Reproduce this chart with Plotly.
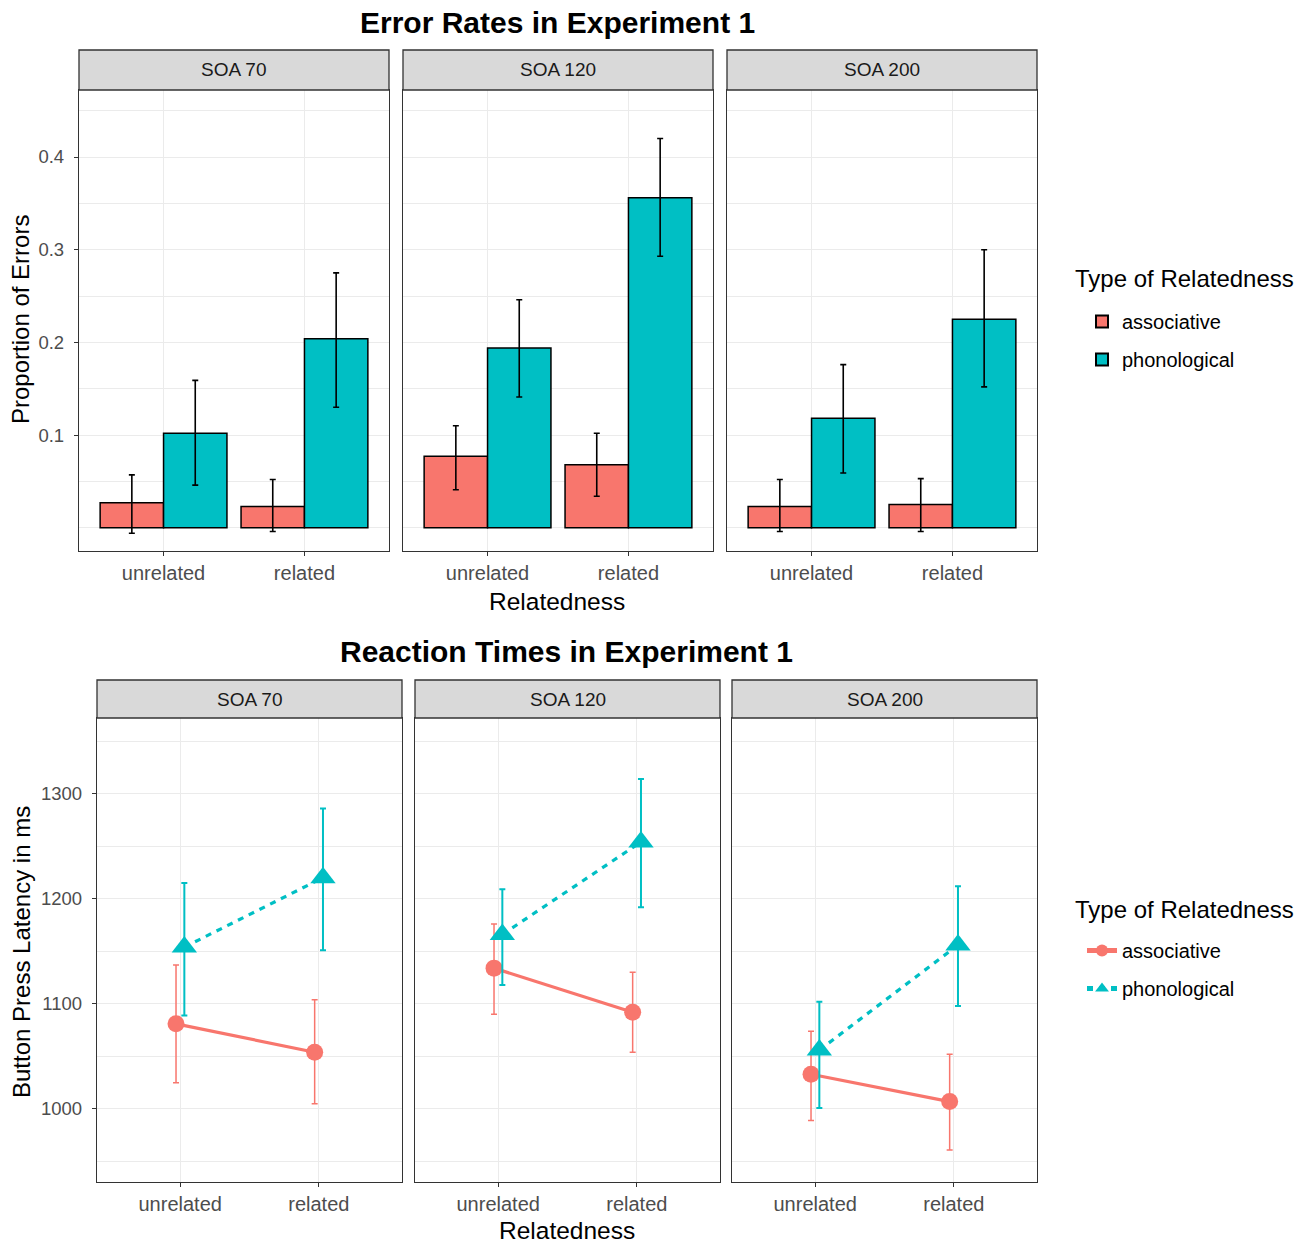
import plotly.graph_objects as go

# ---------------- data ----------------
soas = ["SOA 70", "SOA 120", "SOA 200"]
relatedness = ["unrelated", "related"]
types = ["associative", "phonological"]

# Error rates (proportion of errors), per SOA: [unrelated, related]
err_assoc = [[0.027, 0.023], [0.077, 0.068], [0.023, 0.025]]
err_assoc_lo = [[-0.006, -0.004], [0.041, 0.034], [-0.004, -0.004]]
err_assoc_hi = [[0.057, 0.052], [0.110, 0.102], [0.052, 0.053]]
err_phon = [[0.102, 0.204], [0.194, 0.356], [0.118, 0.225]]
err_phon_lo = [[0.046, 0.130], [0.141, 0.293], [0.059, 0.152]]
err_phon_hi = [[0.159, 0.275], [0.246, 0.420], [0.176, 0.300]]

# Reaction times (ms), per SOA: [unrelated, related]
rt_assoc = [[1081, 1054], [1134, 1092], [1033, 1007]]
rt_assoc_lo = [[1025, 1005], [1090, 1054], [989, 961]]
rt_assoc_hi = [[1137, 1104], [1176, 1130], [1074, 1052]]
rt_phon = [[1154, 1220], [1166, 1254], [1056, 1156]]
rt_phon_lo = [[1089, 1151], [1118, 1192], [1001, 1098]]
rt_phon_hi = [[1215, 1286], [1209, 1314], [1102, 1212]]

err_ticks = [0.1, 0.2, 0.3, 0.4]
err_minor = [0.0, 0.05, 0.15, 0.25, 0.35, 0.45]
rt_ticks = [1000, 1100, 1200, 1300]
rt_minor = [950, 1050, 1150, 1250, 1350]

# ---------------- styling ----------------
W, H = 1307, 1243
FONT = "Liberation Sans, Arial, sans-serif"
C_ASSOC = "#F8766D"
C_PHON = "#00BFC4"
GRID = "#EBEBEB"
FRAME = "#333333"
TICKTXT = "#4D4D4D"


def px_x(p):
    return p / W


def px_y(p):
    return 1 - p / H


top_x_px = [(79, 389), (403, 713), (727, 1037)]
top_y_px = (90, 551)
top_strip_px = (50, 90)
bot_x_px = [(97, 402), (415, 720), (732, 1037)]
bot_y_px = (718, 1182)
bot_strip_px = (680, 718)

fig = go.Figure()


def errs(mean, lo, hi):
    return ([h - m for m, h in zip(mean, hi)], [m - l for m, l in zip(mean, lo)])


# ---------------- top: bars ----------------
for i in range(3):
    xa = "x" if i == 0 else f"x{i + 1}"
    ya = "y" if i == 0 else f"y{i + 1}"
    for name, col, vals, lo, hi in [
        ("associative", C_ASSOC, err_assoc[i], err_assoc_lo[i], err_assoc_hi[i]),
        ("phonological", C_PHON, err_phon[i], err_phon_lo[i], err_phon_hi[i]),
    ]:
        up, down = errs(vals, lo, hi)
        fig.add_trace(go.Bar(
            x=relatedness, y=vals, name=name,
            marker=dict(color=col, line=dict(color="black", width=1.5)),
            error_y=dict(type="data", symmetric=False, array=up, arrayminus=down,
                         color="black", thickness=1.6, width=3),
            xaxis=xa, yaxis=ya, legend="legend", legendgroup="top_" + name,
            showlegend=(i == 0), offsetgroup=name,
        ))

# ---------------- bottom: points + lines ----------------
for i in range(3):
    xa = f"x{i + 4}"
    ya = f"y{i + 4}"
    for name, col, vals, lo, hi, sym, dash, msize, ethick in [
        ("associative", C_ASSOC, rt_assoc[i], rt_assoc_lo[i], rt_assoc_hi[i],
         "circle", "solid", 17, 1.5),
        ("phonological", C_PHON, rt_phon[i], rt_phon_lo[i], rt_phon_hi[i],
         "triangle-up", "6px,6px", 22, 2),
    ]:
        up, down = errs(vals, lo, hi)
        fig.add_trace(go.Scatter(
            x=relatedness, y=vals, name=name, mode="lines+markers",
            line=dict(color=col, width=3.2, dash=dash),
            marker=dict(color=col, symbol=sym, size=msize),
            error_y=dict(type="data", symmetric=False, array=up, arrayminus=down,
                         color=col, thickness=ethick, width=3),
            xaxis=xa, yaxis=ya, legend="legend2", legendgroup="bot_" + name,
            showlegend=(i == 0), offsetgroup=name,
        ))

# ---------------- axes ----------------
common_x = dict(
    type="category", categoryorder="array", categoryarray=relatedness,
    range=[-0.6, 1.6], showgrid=True, gridcolor=GRID, gridwidth=1,
    showline=True, mirror=True, linecolor=FRAME, linewidth=1.3,
    ticks="outside", ticklen=4, tickcolor=FRAME, tickwidth=1,
    tickfont=dict(family=FONT, size=20, color=TICKTXT), zeroline=False,
)


def yaxis_conf(rng, ticks, minor, show_labels, ticktext=None):
    d = dict(
        range=rng, tickvals=ticks, showgrid=True, gridcolor=GRID, gridwidth=1.1,
        minor=dict(tickvals=minor, showgrid=True, gridcolor=GRID, gridwidth=0.6),
        showline=True, mirror=True, linecolor=FRAME, linewidth=1.3,
        zeroline=False, tickfont=dict(family=FONT, size=18.5, color=TICKTXT),
    )
    if show_labels:
        d.update(ticks="outside", ticklen=4, tickcolor=FRAME, showticklabels=True,
                 ticklabelstandoff=6)
        if ticktext is not None:
            d.update(ticktext=ticktext)
    else:
        d.update(ticks="", showticklabels=False)
    return d


layout = {}
err_range = [-0.0251, 0.4723]
rt_range = [930.5, 1372]
for i in range(3):
    xk = "xaxis" if i == 0 else f"xaxis{i + 1}"
    yk = "yaxis" if i == 0 else f"yaxis{i + 1}"
    ya = "y" if i == 0 else f"y{i + 1}"
    xa = "x" if i == 0 else f"x{i + 1}"
    layout[xk] = dict(common_x, domain=[px_x(top_x_px[i][0]), px_x(top_x_px[i][1])], anchor=ya)
    layout[yk] = dict(yaxis_conf(err_range, err_ticks, err_minor, i == 0,
                                 [f"{v:.1f}" for v in err_ticks]),
                      domain=[px_y(top_y_px[1]), px_y(top_y_px[0])], anchor=xa)
    layout[f"xaxis{i + 4}"] = dict(common_x, domain=[px_x(bot_x_px[i][0]), px_x(bot_x_px[i][1])],
                                   anchor=f"y{i + 4}")
    layout[f"yaxis{i + 4}"] = dict(yaxis_conf(rt_range, rt_ticks, rt_minor, i == 0,
                                              [str(v) for v in rt_ticks]),
                                   domain=[px_y(bot_y_px[1]), px_y(bot_y_px[0])],
                                   anchor=f"x{i + 4}")

fig.update_layout(**layout)

# ---------------- strips ----------------
shapes = []
annotations = []
for i in range(3):
    for xp, sp in [(top_x_px[i], top_strip_px), (bot_x_px[i], bot_strip_px)]:
        shapes.append(dict(type="rect", xref="paper", yref="paper",
                           x0=px_x(xp[0]), x1=px_x(xp[1]),
                           y0=px_y(sp[1]), y1=px_y(sp[0]),
                           fillcolor="#D9D9D9", line=dict(color=FRAME, width=1.3),
                           layer="above"))
        annotations.append(dict(text=soas[i], xref="paper", yref="paper",
                                x=px_x((xp[0] + xp[1]) / 2), y=px_y((sp[0] + sp[1]) / 2),
                                showarrow=False, xanchor="center", yanchor="middle",
                                font=dict(family=FONT, size=19, color="#1A1A1A")))

# titles
annotations += [
    dict(text="<b>Error Rates in Experiment 1</b>", xref="paper", yref="paper",
         x=px_x(557), y=px_y(22), showarrow=False, xanchor="center", yanchor="middle",
         font=dict(family=FONT, size=30, color="black")),
    dict(text="<b>Reaction Times in Experiment 1</b>", xref="paper", yref="paper",
         x=px_x(566), y=px_y(651), showarrow=False, xanchor="center", yanchor="middle",
         font=dict(family=FONT, size=30, color="black")),
    dict(text="Relatedness", xref="paper", yref="paper",
         x=px_x(557), y=px_y(601), showarrow=False, xanchor="center", yanchor="middle",
         font=dict(family=FONT, size=24.5, color="black")),
    dict(text="Relatedness", xref="paper", yref="paper",
         x=px_x(567), y=px_y(1230), showarrow=False, xanchor="center", yanchor="middle",
         font=dict(family=FONT, size=24.5, color="black")),
    dict(text="Proportion of Errors", xref="paper", yref="paper", textangle=-90,
         x=px_x(21), y=px_y(320), showarrow=False, xanchor="center", yanchor="middle",
         font=dict(family=FONT, size=24, color="black")),
    dict(text="Button Press Latency in ms", xref="paper", yref="paper", textangle=-90,
         x=px_x(21), y=px_y(952), showarrow=False, xanchor="center", yanchor="middle",
         font=dict(family=FONT, size=24, color="black")),
    # legend titles
    dict(text="Type of Relatedness", xref="paper", yref="paper",
         x=px_x(1073), y=px_y(278), showarrow=False, xanchor="left", yanchor="middle",
         font=dict(family=FONT, size=24, color="black")),
    dict(text="Type of Relatedness", xref="paper", yref="paper",
         x=px_x(1073), y=px_y(909), showarrow=False, xanchor="left", yanchor="middle",
         font=dict(family=FONT, size=24, color="black")),
]

legend_common = dict(
    xanchor="left", yanchor="top", bgcolor="rgba(0,0,0,0)",
    font=dict(family=FONT, size=20, color="black"),
    tracegroupgap=9, itemsizing="constant",
)

fig.update_layout(
    width=W, height=H, margin=dict(l=0, r=0, t=0, b=0),
    paper_bgcolor="white", plot_bgcolor="white",
    font=dict(family=FONT),
    barmode="group", bargap=0.1, bargroupgap=0,
    scattermode="group", scattergap=0.88,
    shapes=shapes, annotations=annotations,
    legend=dict(legend_common, x=px_x(1082), y=px_y(302)),
    legend2=dict(legend_common, x=px_x(1082), y=px_y(931)),
)

fig.write_html("out.html", config={"displayModeBar": False},
               post_script="document.body.style.margin='0px';")
